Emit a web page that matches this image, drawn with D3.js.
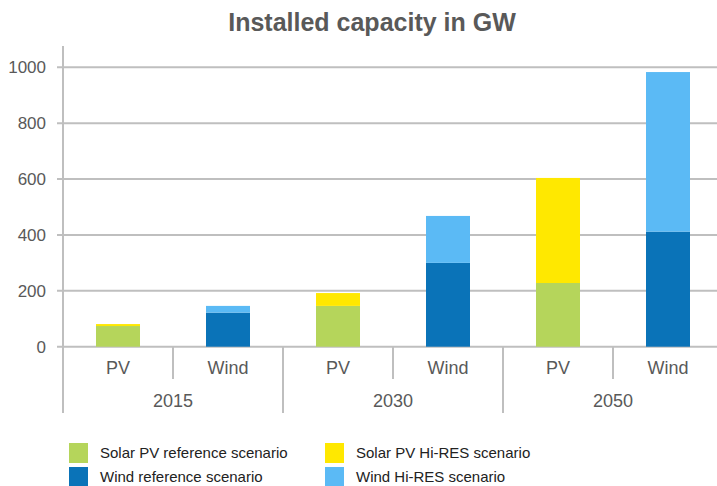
<!DOCTYPE html>
<html>
<head>
<meta charset="utf-8">
<script src="https://cdn.jsdelivr.net/npm/d3@7"></script>
<style>
  body { margin: 0; background: #fff; }
  text { font-family: "Liberation Sans", Arial, sans-serif; }
</style>
</head>
<body>
<div id="container"></div>
<script>
    // data
    const years = ["2015", "2030", "2050"];
    const techs = ["PV", "Wind"];
    const solarRef = [74, 146, 228];
    const solarHiRes = [7, 46, 376];
    const windRef = [122, 300, 412];
    const windHiRes = [24, 168, 571];
    const seriesNames = ["Solar PV reference scenario", "Solar PV Hi-RES scenario",
                         "Wind reference scenario", "Wind Hi-RES scenario"];
    const seriesColors = ["#b5d55b", "#ffe800", "#0a73b8", "#5bbaf5"];
    const yTicks = [0, 200, 400, 600, 800, 1000];

    const width = 717;
    const height = 486;
    const plotLeft = 63, plotRight = 723, plotTop = 67.3, plotZero = 346.7;

    // build rows: one per year+tech
    const rows = [];
    years.forEach((yr, i) => {
        rows.push({ key: yr + "-PV", year: yr, tech: techs[0], s0: solarRef[i], s1: solarHiRes[i], s2: 0, s3: 0 });
        rows.push({ key: yr + "-Wind", year: yr, tech: techs[1], s0: 0, s1: 0, s2: windRef[i], s3: windHiRes[i] });
    });
    const keys = ["s0", "s1", "s2", "s3"];
    const stacked = d3.stack().keys(keys)(rows);

    const x = d3.scaleBand()
        .domain(rows.map(d => d.key))
        .range([plotLeft, plotRight])
        .paddingInner(0.6)
        .paddingOuter(0.3);

    const y = d3.scaleLinear().domain([0, 1000]).range([plotZero, plotTop]);

    const svg = d3.create("svg")
        .attr("width", width)
        .attr("height", height);

    const grey = "#bfbfbf";
    const textGrey = "#595959";

    // title
    svg.append("text")
        .attr("x", 372)
        .attr("y", 31)
        .attr("text-anchor", "middle")
        .attr("font-size", 25)
        .attr("font-weight", "bold")
        .attr("fill", textGrey)
        .text("Installed capacity in GW");

    // gridlines
    svg.append("g")
        .selectAll("line")
        .data(yTicks)
        .join("line")
        .attr("x1", plotLeft - 6)
        .attr("x2", width)
        .attr("y1", d => y(d))
        .attr("y2", d => y(d))
        .attr("stroke", grey)
        .attr("stroke-width", 2);

    // y axis labels
    const yAxis = d3.axisLeft(y).tickValues(yTicks).tickFormat(d3.format("d")).tickSize(0).tickPadding(17);
    const gy = svg.append("g").attr("transform", `translate(${plotLeft},0)`).call(yAxis);
    gy.select(".domain").remove();
    gy.selectAll("text")
        .attr("font-size", 17)
        .attr("fill", textGrey)
        .attr("font-family", "Liberation Sans, Arial, sans-serif");

    // y axis line
    svg.append("line")
        .attr("x1", plotLeft).attr("x2", plotLeft)
        .attr("y1", 46).attr("y2", 413)
        .attr("stroke", grey).attr("stroke-width", 2);

    // bars
    svg.append("g")
        .selectAll("g")
        .data(stacked)
        .join("g")
        .attr("fill", (d, i) => seriesColors[i])
        .selectAll("rect")
        .data(d => d.filter(p => p[1] > p[0]))
        .join("rect")
        .attr("x", d => x(d.data.key))
        .attr("width", x.bandwidth())
        .attr("y", d => y(d[1]))
        .attr("height", d => y(d[0]) - y(d[1]));

    // category separators
    const step = x.step();
    const bounds = d3.range(1, rows.length + 1).map(i => plotLeft + i * step);
    svg.append("g")
        .selectAll("line")
        .data(bounds)
        .join("line")
        .attr("x1", d => d).attr("x2", d => d)
        .attr("y1", plotZero)
        .attr("y2", (d, i) => (i % 2 === 1 ? 413 : 379))
        .attr("stroke", grey)
        .attr("stroke-width", 2);

    // tech labels
    svg.append("g")
        .selectAll("text")
        .data(rows)
        .join("text")
        .attr("x", d => x(d.key) + x.bandwidth() / 2)
        .attr("y", 374)
        .attr("text-anchor", "middle")
        .attr("font-size", 18)
        .attr("fill", textGrey)
        .text(d => d.tech);

    // year labels
    svg.append("g")
        .selectAll("text")
        .data(years)
        .join("text")
        .attr("x", (d, i) => plotLeft + step * (2 * i + 1))
        .attr("y", 407)
        .attr("text-anchor", "middle")
        .attr("font-size", 18)
        .attr("fill", textGrey)
        .text(d => d);

    // legend
    const legend = svg.append("g")
        .selectAll("g")
        .data(seriesNames)
        .join("g")
        .attr("transform", (d, i) => `translate(${i % 2 === 0 ? 69 : 325},${i < 2 ? 443 : 467})`);
    legend.append("rect")
        .attr("width", 19)
        .attr("height", 20)
        .attr("fill", (d, i) => seriesColors[i]);
    legend.append("text")
        .attr("x", 31)
        .attr("y", 15)
        .attr("font-size", 15)
        .attr("fill", "#222")
        .text(d => d);

    container.append(svg.node());
</script>
</body>
</html>
